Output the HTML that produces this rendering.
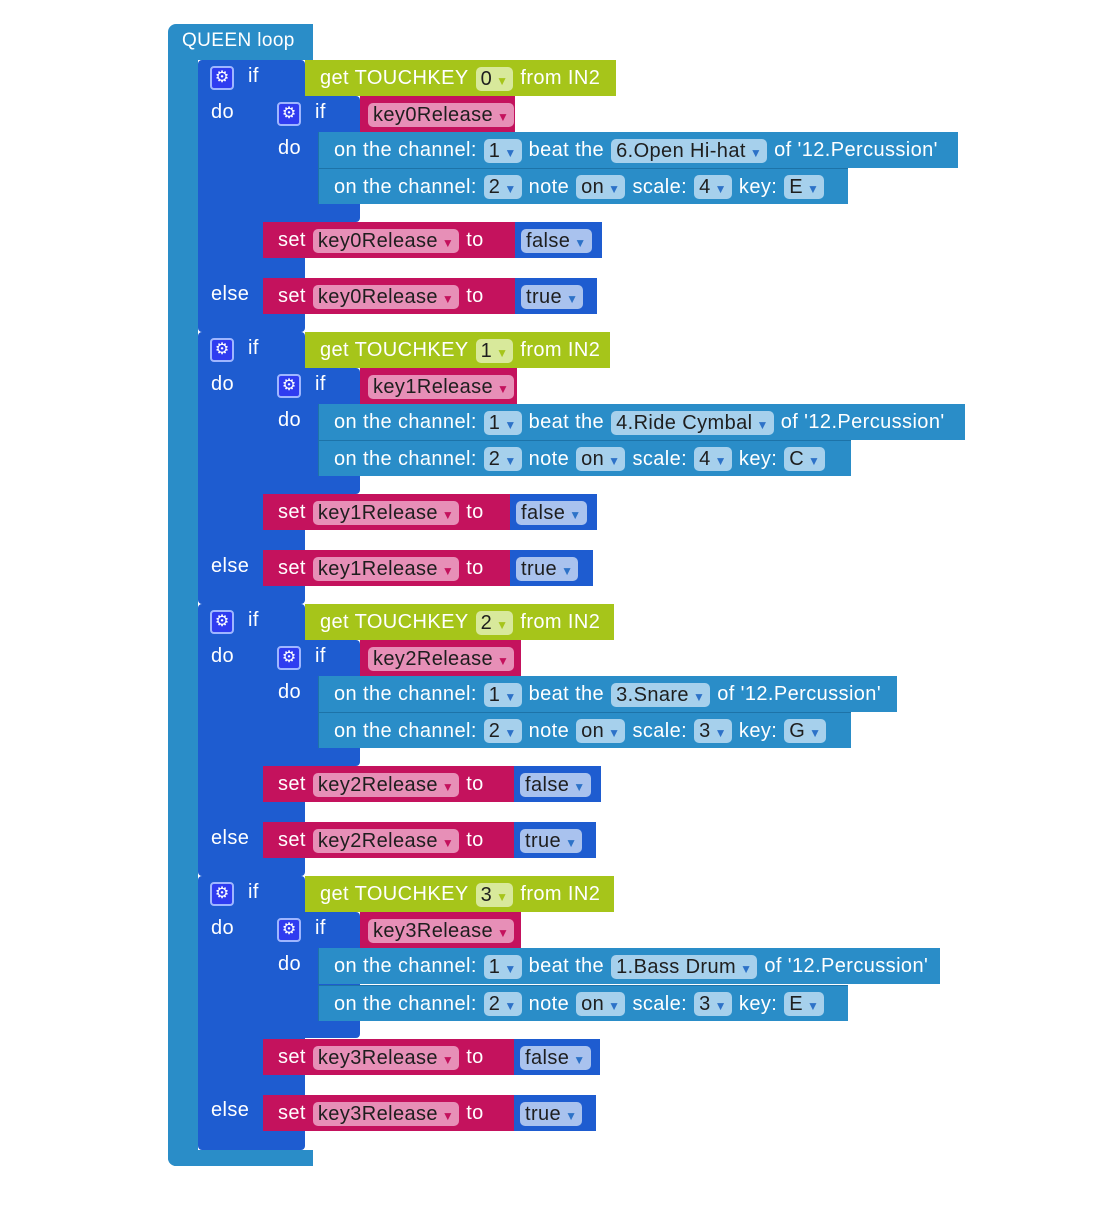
<!DOCTYPE html>
<html><head><meta charset="utf-8"><style>
body{margin:0;width:1110px;height:1226px;background:#fff;position:relative;overflow:hidden;font-family:"Liberation Sans",sans-serif}
div{box-sizing:border-box}
.a{position:absolute}
.b{position:absolute;height:36px;display:flex;align-items:center;color:#fff;font-size:20px;letter-spacing:0.4px;white-space:nowrap;padding-left:15px;gap:7px;overflow:hidden;padding-top:1px}
.f{border-radius:5px;padding:0 5px;height:24px;line-height:24px;color:#1e1e1e}
.f i{font-style:normal;font-size:12px;color:#2d72c8;margin-left:4px}
.lb{position:absolute;color:#fff;font-size:20px;letter-spacing:0.4px}
.g{position:absolute;width:24px;height:24px;background:#2f3cf0;border:2px solid #9fb6ff;border-radius:4px;color:#fff;font-size:16px;text-align:center;line-height:20px}
.loop{background:#2a8dc8}
.ifb{background:#1e5cd0}
.tk{background:#a6c51a}.tk .f{background:#d8e99b}.tk .f i{color:#a6c51a}
.mg{background:#c4125d}.mg .f{background:#e78fb7}.mg .f i{color:#c4125d}
.mu{background:#2a8dc8;border-left:1px solid #1d73a8}.mu .f{background:#a6d0ec}
.vb{background:#1e5cd0;padding-left:6px}.vb .f{background:#a9c2ee}
.grp{position:absolute;left:0;width:1110px;height:272px}
</style></head><body>
<div class="a loop" style="left:168px;top:24px;width:145px;height:36px;border-radius:8px 0 0 0"></div>
<div class="lb" style="left:182px;top:30px;font-size:19px">QUEEN loop</div>
<div class="a loop" style="left:168px;top:60px;width:30px;height:1106px;border-radius:0 0 0 8px"></div>
<div class="a loop" style="left:168px;top:1150px;width:145px;height:16px;border-radius:0 0 0 8px"></div>

<div class="grp" style="top:60px">
 <div class="a ifb" style="left:198px;top:0;width:107px;height:272px;border-radius:4px"></div>
 <div class="g" style="left:210px;top:6px">⚙</div><div class="lb" style="left:248px;top:5px">if</div>
 <div class="lb" style="left:211px;top:41px">do</div><div class="lb" style="left:211px;top:223px">else</div>
 <div class="b tk" style="left:305px;top:0;width:311px">get TOUCHKEY <span class="f">0<i>▼</i></span> from IN2</div>
 <div class="a ifb" style="left:263px;top:36px;width:97px;height:126px;border-radius:4px"></div>
 <div class="g" style="left:277px;top:42px">⚙</div><div class="lb" style="left:315px;top:41px">if</div>
 <div class="lb" style="left:278px;top:77px">do</div>
 <div class="b mg" style="left:360px;top:36px;width:155px;padding-left:8px"><span class="f">key0Release<i>▼</i></span></div>
 <div class="b mu" style="left:318px;top:72px;width:640px">on the channel: <span class="f">1<i>▼</i></span> beat the <span class="f">6.Open Hi-hat<i>▼</i></span> of '12.Percussion'</div>
 <div class="b mu" style="left:318px;top:108px;width:530px;border-top:1px solid #1d73a8">on the channel: <span class="f">2<i>▼</i></span> note <span class="f">on<i>▼</i></span> scale: <span class="f">4<i>▼</i></span> key: <span class="f">E<i>▼</i></span></div>
 <div class="b mg" style="left:263px;top:162px;width:252px">set <span class="f">key0Release<i>▼</i></span> to</div>
 <div class="b vb" style="left:515px;top:162px;width:87px"><span class="f">false<i>▼</i></span></div>
 <div class="b mg" style="left:263px;top:218px;width:252px">set <span class="f">key0Release<i>▼</i></span> to</div>
 <div class="b vb" style="left:515px;top:218px;width:82px"><span class="f">true<i>▼</i></span></div>
</div>

<div class="grp" style="top:332px">
 <div class="a ifb" style="left:198px;top:0;width:107px;height:272px;border-radius:4px"></div>
 <div class="g" style="left:210px;top:6px">⚙</div><div class="lb" style="left:248px;top:5px">if</div>
 <div class="lb" style="left:211px;top:41px">do</div><div class="lb" style="left:211px;top:223px">else</div>
 <div class="b tk" style="left:305px;top:0;width:305px">get TOUCHKEY <span class="f">1<i>▼</i></span> from IN2</div>
 <div class="a ifb" style="left:263px;top:36px;width:97px;height:126px;border-radius:4px"></div>
 <div class="g" style="left:277px;top:42px">⚙</div><div class="lb" style="left:315px;top:41px">if</div>
 <div class="lb" style="left:278px;top:77px">do</div>
 <div class="b mg" style="left:360px;top:36px;width:157px;padding-left:8px"><span class="f">key1Release<i>▼</i></span></div>
 <div class="b mu" style="left:318px;top:72px;width:647px">on the channel: <span class="f">1<i>▼</i></span> beat the <span class="f">4.Ride Cymbal<i>▼</i></span> of '12.Percussion'</div>
 <div class="b mu" style="left:318px;top:108px;width:533px;border-top:1px solid #1d73a8">on the channel: <span class="f">2<i>▼</i></span> note <span class="f">on<i>▼</i></span> scale: <span class="f">4<i>▼</i></span> key: <span class="f">C<i>▼</i></span></div>
 <div class="b mg" style="left:263px;top:162px;width:247px">set <span class="f">key1Release<i>▼</i></span> to</div>
 <div class="b vb" style="left:510px;top:162px;width:87px"><span class="f">false<i>▼</i></span></div>
 <div class="b mg" style="left:263px;top:218px;width:247px">set <span class="f">key1Release<i>▼</i></span> to</div>
 <div class="b vb" style="left:510px;top:218px;width:83px"><span class="f">true<i>▼</i></span></div>
</div>

<div class="grp" style="top:604px">
 <div class="a ifb" style="left:198px;top:0;width:107px;height:272px;border-radius:4px"></div>
 <div class="g" style="left:210px;top:6px">⚙</div><div class="lb" style="left:248px;top:5px">if</div>
 <div class="lb" style="left:211px;top:41px">do</div><div class="lb" style="left:211px;top:223px">else</div>
 <div class="b tk" style="left:305px;top:0;width:309px">get TOUCHKEY <span class="f">2<i>▼</i></span> from IN2</div>
 <div class="a ifb" style="left:263px;top:36px;width:97px;height:126px;border-radius:4px"></div>
 <div class="g" style="left:277px;top:42px">⚙</div><div class="lb" style="left:315px;top:41px">if</div>
 <div class="lb" style="left:278px;top:77px">do</div>
 <div class="b mg" style="left:360px;top:36px;width:161px;padding-left:8px"><span class="f">key2Release<i>▼</i></span></div>
 <div class="b mu" style="left:318px;top:72px;width:579px">on the channel: <span class="f">1<i>▼</i></span> beat the <span class="f">3.Snare<i>▼</i></span> of '12.Percussion'</div>
 <div class="b mu" style="left:318px;top:108px;width:533px;border-top:1px solid #1d73a8">on the channel: <span class="f">2<i>▼</i></span> note <span class="f">on<i>▼</i></span> scale: <span class="f">3<i>▼</i></span> key: <span class="f">G<i>▼</i></span></div>
 <div class="b mg" style="left:263px;top:162px;width:251px">set <span class="f">key2Release<i>▼</i></span> to</div>
 <div class="b vb" style="left:514px;top:162px;width:87px"><span class="f">false<i>▼</i></span></div>
 <div class="b mg" style="left:263px;top:218px;width:251px">set <span class="f">key2Release<i>▼</i></span> to</div>
 <div class="b vb" style="left:514px;top:218px;width:82px"><span class="f">true<i>▼</i></span></div>
</div>

<div class="grp" style="top:876px">
 <div class="a ifb" style="left:198px;top:0;width:107px;height:274px;border-radius:4px"></div>
 <div class="g" style="left:210px;top:6px">⚙</div><div class="lb" style="left:248px;top:5px">if</div>
 <div class="lb" style="left:211px;top:41px">do</div><div class="lb" style="left:211px;top:223px">else</div>
 <div class="b tk" style="left:305px;top:0;width:309px">get TOUCHKEY <span class="f">3<i>▼</i></span> from IN2</div>
 <div class="a ifb" style="left:263px;top:36px;width:97px;height:126px;border-radius:4px"></div>
 <div class="g" style="left:277px;top:42px">⚙</div><div class="lb" style="left:315px;top:41px">if</div>
 <div class="lb" style="left:278px;top:77px">do</div>
 <div class="b mg" style="left:360px;top:36px;width:161px;padding-left:8px"><span class="f">key3Release<i>▼</i></span></div>
 <div class="b mu" style="left:318px;top:72px;width:622px">on the channel: <span class="f">1<i>▼</i></span> beat the <span class="f">1.Bass Drum<i>▼</i></span> of '12.Percussion'</div>
 <div class="b mu" style="left:318px;top:109px;width:530px;border-top:1px solid #1d73a8">on the channel: <span class="f">2<i>▼</i></span> note <span class="f">on<i>▼</i></span> scale: <span class="f">3<i>▼</i></span> key: <span class="f">E<i>▼</i></span></div>
 <div class="b mg" style="left:263px;top:163px;width:251px">set <span class="f">key3Release<i>▼</i></span> to</div>
 <div class="b vb" style="left:514px;top:163px;width:86px"><span class="f">false<i>▼</i></span></div>
 <div class="b mg" style="left:263px;top:219px;width:251px">set <span class="f">key3Release<i>▼</i></span> to</div>
 <div class="b vb" style="left:514px;top:219px;width:82px"><span class="f">true<i>▼</i></span></div>
</div>
</body></html>
